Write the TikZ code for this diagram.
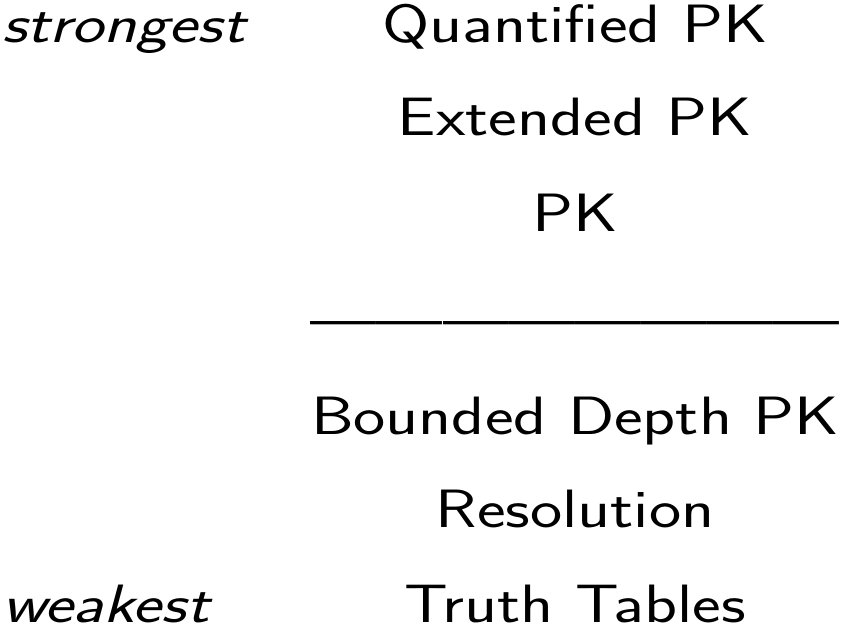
\documentclass[tikz,border=0pt]{standalone}
\usepackage{fontspec}
\usepackage{graphicx}
\newlength\refw
\settowidth\refw{\fontsize{54}{60}\selectfont\sffamily Bounded Depth PK}
\pgfmathsetmacro\xf{528/\refw}
\newcommand\wideT[1]{\scalebox{\xf}[1]{#1}}
\begin{document}
\begin{tikzpicture}[x=1pt,y=1pt,
  every node/.style={inner sep=0pt,outer sep=0pt,font=\fontsize{54}{60}\selectfont\sffamily},
  sys/.style={anchor=base},
  side/.style={anchor=base west,font=\fontsize{54}{60}\selectfont\sffamily\itshape}]
\useasboundingbox (0,0) rectangle (842,627);
\node[sys] (q) at (575,627-43) {\wideT{Quantified PK}};
\node[sys] (e) at (575,627-136) {\wideT{Extended PK}};
\node[sys] (p) at (575,627-232) {\wideT{PK}};
\node[sys] (l) at (575,627-337) {\resizebox{528pt}{\height}{————————}};
\node[sys] (b) at (575,627-434) {\wideT{Bounded Depth PK}};
\node[sys] (r) at (575,627-527) {\wideT{Resolution}};
\node[sys] (t) at (575,627-622) {\wideT{Truth Tables}};
\node[side] (s) at (2,627-43) {\wideT{strongest}};
\node[side] (w) at (2,627-622) {\wideT{weakest}};
\end{tikzpicture}
\end{document}
